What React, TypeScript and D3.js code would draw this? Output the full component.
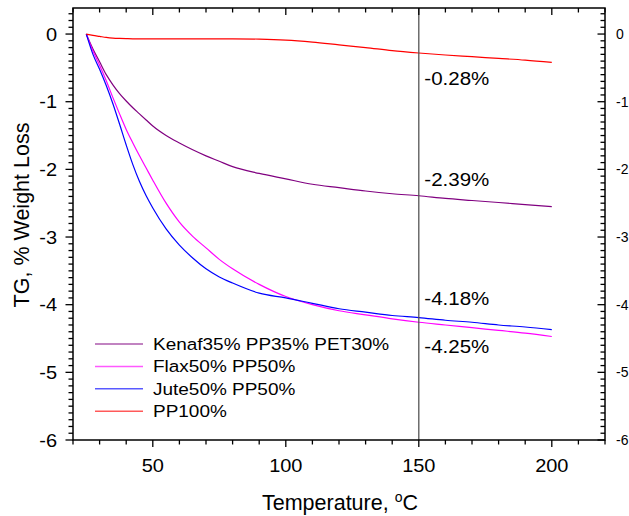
import React from "react";
import * as d3 from "d3";

const temps = [25, 27.5, 30, 32.5, 35, 37.5, 40, 42.5, 45, 47.5, 50, 55, 60, 65, 70, 75, 80, 90, 100, 110, 120, 130, 140, 150, 160, 170, 180, 190, 200];
const kenaf = [0, -0.22, -0.41, -0.6, -0.75, -0.88, -0.99, -1.09, -1.18, -1.27, -1.36, -1.5, -1.61, -1.71, -1.8, -1.88, -1.96, -2.06, -2.14, -2.22, -2.27, -2.32, -2.36, -2.39, -2.43, -2.46, -2.49, -2.52, -2.55];
const flax = [0, -0.25, -0.46, -0.69, -0.94, -1.18, -1.41, -1.61, -1.8, -1.98, -2.16, -2.5, -2.78, -2.99, -3.16, -3.33, -3.47, -3.7, -3.88, -4.0, -4.09, -4.15, -4.21, -4.26, -4.3, -4.34, -4.38, -4.42, -4.47];
const jute = [0, -0.3, -0.52, -0.76, -1.03, -1.33, -1.64, -1.93, -2.18, -2.39, -2.57, -2.88, -3.12, -3.31, -3.47, -3.59, -3.68, -3.83, -3.9, -3.98, -4.06, -4.11, -4.16, -4.19, -4.23, -4.26, -4.3, -4.33, -4.37];
const pp100 = [0, -0.02, -0.035, -0.05, -0.06, -0.065, -0.068, -0.07, -0.07, -0.07, -0.07, -0.07, -0.07, -0.07, -0.07, -0.07, -0.07, -0.075, -0.09, -0.12, -0.16, -0.2, -0.245, -0.28, -0.31, -0.335, -0.36, -0.385, -0.42];

const seriesNames = ["Kenaf35% PP35% PET30%", "Flax50% PP50%", "Jute50% PP50%", "PP100%"];
const seriesColors = ["#800080", "#ff00ff", "#0000ff", "#ff0000"];
const seriesValues = [kenaf, flax, jute, pp100];

const xTicks = [50, 100, 150, 200];
const yTicks = [0, -1, -2, -3, -4, -5, -6];
const markerT = 150;
const annotations = ["-0.28%", "-2.39%", "-4.18%", "-4.25%"];

const W = 629, H = 516;
const L = 73, R = 605, T = 8, B = 440;
const FONT = "Arial, 'Liberation Sans', sans-serif";

function SText(props: { x: number; y: number; size: number; sx?: number; anchor?: string; children: React.ReactNode }) {
  const { x, y, size, sx = 1, anchor = "start", children } = props;
  return (
    <text transform={`translate(${x},${y}) scale(${sx},1)`} fontSize={size} textAnchor={anchor} fill="#000">
      {children}
    </text>
  );
}

export default function App() {
  const x = d3.scaleLinear().domain([20, 220]).range([L, R]);
  const y = d3.scaleLinear().domain([-6, 0.385]).range([B, T]);
  const line = d3.line<number>().curve(d3.curveMonotoneX);

  const xMinor = d3.range(20, 221, 10);
  const yMinor = d3.range(-60, 4, 1).map((v) => v / 10);

  const annY = [85, 186, 305, 353];

  return (
    <svg width={W} height={H} style={{ position: "absolute", left: 0, top: 0, background: "#fff" }} fontFamily={FONT}>
      <rect x={0} y={0} width={W} height={H} fill="#fff" />
      {seriesValues.map((vals, i) => (
        <path
          key={i}
          d={line(temps.map((t, j) => [x(t), y(vals[j])]) as any) || ""}
          fill="none"
          stroke={seriesColors[i]}
          strokeWidth={1.2}
        />
      ))}
      <line x1={x(markerT)} x2={x(markerT)} y1={B} y2={T} stroke="#555" strokeWidth={1.3} />
      {annotations.map((a, i) => (
        <SText key={a} x={x(markerT) + 5.5} y={annY[i]} size={18.5} sx={1.11}>{a}</SText>
      ))}
      <rect x={L} y={T} width={R - L} height={B - T} fill="none" stroke="#000" strokeWidth={1.5} />
      {xMinor.map((v) => {
        const major = v % 50 === 0;
        const len = major ? 7 : 4.5;
        return (
          <g key={"x" + v}>
            <line x1={x(v)} x2={x(v)} y1={B} y2={B + len} stroke="#000" strokeWidth={1.3} />
            <line x1={x(v)} x2={x(v)} y1={T} y2={T + len} stroke="#000" strokeWidth={1.3} />
          </g>
        );
      })}
      {yMinor.map((v) => {
        const major = Math.abs(v - Math.round(v)) < 1e-6;
        const len = major ? 7.5 : 4.5;
        return (
          <g key={"y" + v}>
            <line x1={L - len} x2={L} y1={y(v)} y2={y(v)} stroke="#000" strokeWidth={1.3} />
            <line x1={R - len} x2={R} y1={y(v)} y2={y(v)} stroke="#000" strokeWidth={1.3} />
          </g>
        );
      })}
      {xTicks.map((v) => (
        <SText key={"xl" + v} x={x(v)} y={472} size={18.5} sx={1.08} anchor="middle">{v}</SText>
      ))}
      {yTicks.map((v) => (
        <SText key={"yl" + v} x={57} y={y(v) + 6.5} size={18.5} sx={1.08} anchor="end">{v}</SText>
      ))}
      {yTicks.map((v) => (
        <SText key={"yr" + v} x={616} y={y(v) + 5} size={14} anchor="start">{v}</SText>
      ))}
      <text x={340} y={510} fontSize={21.5} textAnchor="middle" fill="#000">
        Temperature, <tspan dy={-8} fontSize={14}>o</tspan><tspan dy={8}>C</tspan>
      </text>
      <text transform={`translate(29, 215) rotate(-90)`} fontSize={21.5} textAnchor="middle" fill="#000">
        TG, % Weight Loss
      </text>
      {seriesNames.map((n, i) => {
        const ly = 344 + i * 22.4;
        return (
          <g key={n}>
            <line x1={95} x2={143} y1={ly} y2={ly} stroke={seriesColors[i]} strokeOpacity={0.65} strokeWidth={1.5} />
            <SText x={153} y={ly + 6} size={16.5} sx={1.15}>{n}</SText>
          </g>
        );
      })}
    </svg>
  );
}
